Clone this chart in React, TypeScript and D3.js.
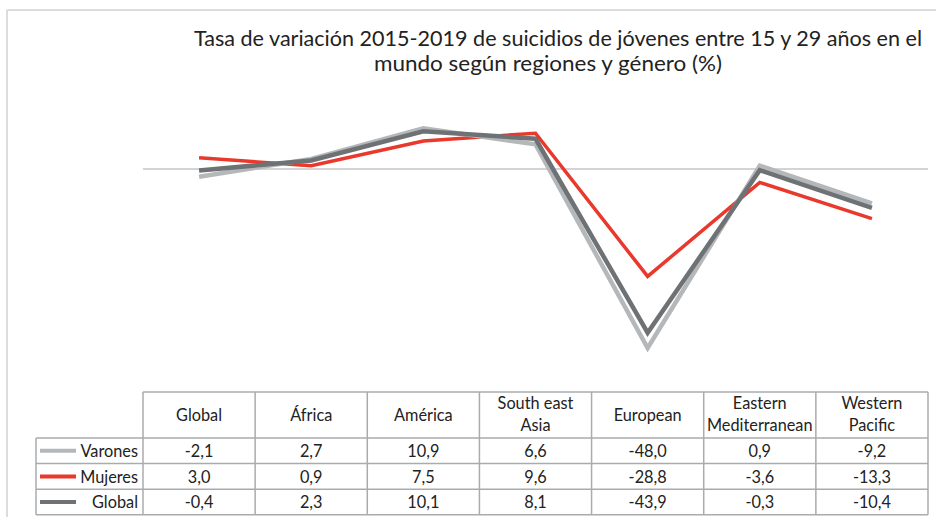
import React from "react";
import * as d3 from "d3";

const W = 936;
const H = 517;

const categories = ["Global", "África", "América", "South east Asia", "European", "Eastern Mediterranean", "Western Pacific"];
const headerLines = [["Global"], ["África"], ["América"], ["South east", "Asia"], ["European"], ["Eastern", "Mediterranean"], ["Western", "Pacific"]];
const varones = [-2.1, 2.7, 10.9, 6.6, -48.0, 0.9, -9.2];
const mujeres = [3.0, 0.9, 7.5, 9.6, -28.8, -3.6, -13.3];
const globalS = [-0.4, 2.3, 10.1, 8.1, -43.9, -0.3, -10.4];
const seriesNames = ["Varones", "Mujeres", "Global"];
const titleLines = [
  "Tasa de variación 2015-2019 de suicidios de jóvenes entre 15 y 29 años en el",
  "mundo según regiones y género (%)",
];

const series = [
  { name: seriesNames[0], values: varones, color: "#b5b8ba", width: 4.5 },
  { name: seriesNames[1], values: mujeres, color: "#e9382c", width: 3.5 },
  { name: seriesNames[2], values: globalS, color: "#6f7274", width: 4.5 },
];
const drawOrder = [1, 0, 2];

const fmt = (v: number) => v.toFixed(1).replace(".", ",");

export default function App() {
  const x = d3.scaleBand<string>().domain(categories).range([143, 928]);
  const cx = (c: string) => (x(c) as number) + x.bandwidth() / 2;
  const y = d3.scaleLinear().domain([-50, 15]).range([169 + 50 * 3.73, 169 - 15 * 3.73]);
  const line = d3
    .line<number>()
    .x((_, i) => cx(categories[i]))
    .y((d) => y(d));

  const font = "Lato, 'Open Sans', sans-serif";
  const fs = 16.3;
  const tableTop = 392;
  const headerBottom = 438;
  const rowH = 25.6;
  const labelLeft = 36;
  const tableLeft = 143;
  const tableRight = 928;
  const border = "#a9abad";

  const rowTops = seriesNames.map((_, i) => headerBottom + i * rowH);
  const tableBottom = headerBottom + 3 * rowH;

  return (
    <svg width={W} height={H} style={{ position: "absolute", left: 0, top: 0, background: "#fff" }}>
      <rect x={0} y={0} width={W} height={H} fill="#fff" />
      {/* frame */}
      <line x1={7} y1={10} x2={W} y2={10} stroke="#dcdcdc" strokeWidth={2} />
      <line x1={7} y1={10} x2={7} y2={H} stroke="#dcdcdc" strokeWidth={2} />

      {/* title */}
      <text x={558} y={46} textAnchor="middle" fontFamily={font} fontSize={21} fill="#222" textLength={728} lengthAdjust="spacingAndGlyphs">
        {titleLines[0]}
      </text>
      <text x={548} y={71} textAnchor="middle" fontFamily={font} fontSize={21} fill="#222" textLength={348} lengthAdjust="spacingAndGlyphs">
        {titleLines[1]}
      </text>

      {/* zero line */}
      <line x1={tableLeft} x2={tableRight} y1={y(0)} y2={y(0)} stroke="#d4d4d4" strokeWidth={1.8} />

      {/* lines */}
      {drawOrder.map((k) => {
        const s = series[k];
        return (
          <path
            key={s.name}
            d={line(s.values) || ""}
            fill="none"
            stroke={s.color}
            strokeWidth={s.width}
            strokeLinejoin="miter"
            strokeLinecap="butt"
          />
        );
      })}

      {/* table */}
      <g fontFamily={font} fill="#222">
        <line x1={tableLeft} x2={tableRight} y1={tableTop} y2={tableTop} stroke={border} strokeWidth={1.5} />
        {[...rowTops, tableBottom].map((ty, i) => (
          <line key={"h" + i} x1={labelLeft} x2={tableRight} y1={ty} y2={ty} stroke={border} strokeWidth={1.5} />
        ))}
        <line x1={labelLeft} x2={labelLeft} y1={headerBottom} y2={tableBottom} stroke={border} strokeWidth={1.5} />
        {categories.map((c) => (
          <line key={"v" + c} x1={x(c)} x2={x(c)} y1={tableTop} y2={tableBottom} stroke={border} strokeWidth={1.5} />
        ))}
        <line x1={tableRight} x2={tableRight} y1={tableTop} y2={tableBottom} stroke={border} strokeWidth={1.5} />

        {categories.map((c, i) => {
          const lines = headerLines[i];
          if (lines.length === 1) {
            return (
              <text key={"hd" + c} x={cx(c)} y={421} textAnchor="middle" fontSize={fs}>
                {lines[0]}
              </text>
            );
          }
          return (
            <text key={"hd" + c} x={cx(c)} textAnchor="middle" fontSize={fs}>
              <tspan x={cx(c)} y={409}>{lines[0]}</tspan>
              <tspan x={cx(c)} y={431}>{lines[1]}</tspan>
            </text>
          );
        })}

        {series.map((s, r) => (
          <g key={"row" + s.name}>
            <line x1={40} x2={76} y1={rowTops[r] + rowH / 2} y2={rowTops[r] + rowH / 2} stroke={s.color} strokeWidth={4} />
            <text x={138} y={rowTops[r] + 19} textAnchor="end" fontSize={fs}>
              {s.name}
            </text>
            {s.values.map((v, i) => (
              <text key={i} x={cx(categories[i])} y={rowTops[r] + 19} textAnchor="middle" fontSize={fs}>
                {fmt(v)}
              </text>
            ))}
          </g>
        ))}
      </g>
    </svg>
  );
}
